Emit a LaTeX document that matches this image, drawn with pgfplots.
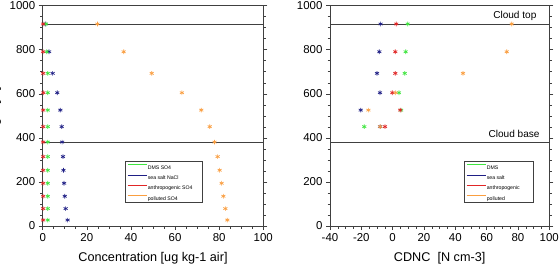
\documentclass[border=0pt]{standalone}
\usepackage{pgfplots}
\pgfplotsset{compat=1.18}
\usepackage{pgfplotstable}
\usepackage{fontspec}
\setmainfont{Liberation Sans}
\definecolor{cdms}{rgb}{0.25,0.9,0.25}
\definecolor{csea}{rgb}{0.12,0.12,0.52}
\definecolor{cant}{rgb}{0.88,0.15,0.15}
\definecolor{cpol}{rgb}{0.98,0.62,0.25}
\definecolor{axc}{rgb}{0.25,0.25,0.25}

% left: concentration
\pgfplotstableread{
h    dms  sea  ant  pol
917  1.5  1.2  0.2  24.8
791  1.8  2.9  0.2  36.7
693  2.3  4.5  0.2  49.4
605  2.3  6.6  0.3  63.1
526  2.3  8.0  0.2  71.9
451  2.3  8.6  0.2  75.7
381  2.3  8.8  0.2  77.9
315  2.3  9.2  0.2  79.3
253  2.3  9.4  0.2  80.2
194  2.3  9.7  0.2  81.1
135  2.3  10.0 0.2  81.9
79   2.3  10.4 0.2  82.8
27   2.3  11.3 0.2  83.7
}\conc
% right: CDNC
\pgfplotstableread{
h    dms   sea    ant   pol
917  9.6   -7.7   2.3   76.0
791  8.3   -8.5   1.7   72.8
693  7.7   -10.0  1.7   44.9
605  4.0   -8.1   -0.2  1.9
526  5.4   -20.4  4.8   -15.5
451  -18.1 -8.0   -4.9  -7.9
}\cdnc

\pgfplotsset{
  ncl/.style={
    scale only axis, height=220.3bp,
    ymin=0, ymax=1000, ytick={0,200,...,1000},
    minor y tick num=3, minor x tick num=3,
    tick align=outside, major tick length=4bp, minor tick length=2.5bp,
    xtick pos=lower, ytick pos=both,
    axis line style={axc, line width=0.8bp},
    every tick/.style={axc, line width=0.6bp},
    tick label style={font=\fontsize{11.5}{13}\selectfont},
    label style={font=\fontsize{12.7}{14}\selectfont},
    /pgf/number format/assume math mode=true,
    /pgf/number format/1000 sep={},
    clip=false,
    legend cell align=left,
    mk/.style={only marks, mark=asterisk, mark size=2.3bp, mark options={line width=0.7bp}, forget plot},
  },
}
\newcommand{\ent}[2]{\rule[-3.55bp]{0pt}{10.7bp}\makebox[#1][l]{#2}}
\newcommand{\limg}[1]{\addlegendimage{legend image code/.code={\draw[draw=#1, line width=0.9bp] (0bp,1.8bp) -- (19bp,1.8bp);}}}

\begin{document}
\begin{tikzpicture}
\begin{axis}[ncl, at={(42.7bp,41bp)}, anchor=south west, width=220.6bp,
  xmin=0, xmax=100, xtick={0,20,...,100},
  xlabel={Concentration [ug kg-1 air]},
  xlabel style={at={(rel axis cs:0.5,0)}, anchor=base, yshift=-35.5bp},
  ylabel={Height [m]},
  ylabel style={at={(rel axis cs:-0.2013,0.5)}, anchor=base, rotate=0},
  legend style={at={(rel axis cs:0.374,0.296)}, anchor=north west,
    draw=axc, line width=0.6bp, inner xsep=1.6bp, inner ysep=0.3bp,
    row sep=0pt, font=\fontsize{5.2}{6}\selectfont,
    nodes={inner sep=0.8bp}},
]
\addplot[axc, line width=0.8bp, forget plot] coordinates {(0,917) (100,917)};
\addplot[axc, line width=0.8bp, forget plot] coordinates {(0,381) (100,381)};
\addplot[mk, csea] table[x=sea, y=h] {\conc};
\addplot[mk, cdms] table[x=dms, y=h] {\conc};
\addplot[mk, cant] table[x=ant, y=h] {\conc};
\addplot[mk, cpol] table[x=pol, y=h] {\conc};
\limg{cdms}\addlegendentry{\ent{52.1bp}{DMS SO4}}
\limg{csea}\addlegendentry{\ent{52.1bp}{sea salt NaCl}}
\limg{cant}\addlegendentry{\ent{52.1bp}{anthropogenic SO4}}
\limg{cpol}\addlegendentry{\ent{52.1bp}{polluted SO4}}
\end{axis}

\begin{axis}[ncl, at={(330bp,41bp)}, anchor=south west, width=219.3bp,
  xmin=-40, xmax=100, xtick={-40,-20,...,100},
  xlabel={CDNC\ \ [N cm-3]},
  xlabel style={at={(rel axis cs:0.5,0)}, anchor=base, yshift=-35.5bp},
  legend style={at={(rel axis cs:0.612,0.296)}, anchor=north west,
    draw=axc, line width=0.6bp, inner xsep=1.6bp, inner ysep=0.3bp,
    row sep=0pt, font=\fontsize{5.2}{6}\selectfont,
    nodes={inner sep=0.8bp}},
]
\addplot[axc, line width=0.8bp, forget plot] coordinates {(-40,917) (100,917)};
\addplot[axc, line width=0.8bp, forget plot] coordinates {(-40,381) (100,381)};
\addplot[mk, csea] table[x=sea, y=h] {\cdnc};
\addplot[mk, cdms] table[x=dms, y=h] {\cdnc};
\addplot[mk, cant] table[x=ant, y=h] {\cdnc};
\addplot[mk, cpol] table[x=pol, y=h] {\cdnc};
\node[font=\fontsize{10.1}{12}\selectfont] at (axis cs:78,955) {Cloud top};
\node[font=\fontsize{10.1}{12}\selectfont] at (axis cs:77.5,418) {Cloud base};
\limg{cdms}\addlegendentry{\ent{43.9bp}{DMS}}
\limg{csea}\addlegendentry{\ent{43.9bp}{sea salt}}
\limg{cant}\addlegendentry{\ent{43.9bp}{anthropogenic}}
\limg{cpol}\addlegendentry{\ent{43.9bp}{polluted}}
\end{axis}
\pgfresetboundingbox
\useasboundingbox (0,0) rectangle (559bp,267bp);
\end{tikzpicture}
\end{document}
